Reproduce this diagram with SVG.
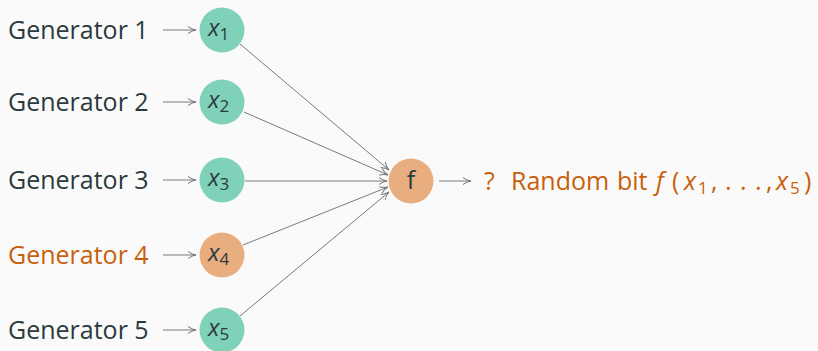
<svg xmlns="http://www.w3.org/2000/svg" width="818" height="351" viewBox="0 0 818 351">
<defs>
<marker id="arr" viewBox="0 0 10 10" refX="9" refY="5" markerWidth="10" markerHeight="10" markerUnits="userSpaceOnUse" orient="auto">
<path d="M1,1.5 Q5,4.5 9,5 Q5,5.5 1,8.5" fill="none" stroke="#777" stroke-width="1"/>
</marker>
</defs>
<style>
.lbl{font-family:"Open Sans","Noto Sans",sans-serif;font-size:25px;fill:#2a3a3d}
.alert{fill:#c95f0c}
.green{fill:#80d1b9}
.orange{fill:#e9ae80}
.var{font-family:"Open Sans","Noto Sans",sans-serif;font-size:24px;fill:#2a3a3d;font-style:italic}
.sub{font-size:17px;font-style:normal}
.edge{stroke:#7a7a7a;stroke-width:1;fill:none;marker-end:url(#arr)}
</style>
<rect width="818" height="351" fill="#fafafa"/>
<g id="connectors">
<line class="edge" x1="163" y1="30" x2="196" y2="30"/>
<line class="edge" x1="163" y1="102" x2="196" y2="102"/>
<line class="edge" x1="163" y1="180" x2="196" y2="180"/>
<line class="edge" x1="163" y1="255" x2="196" y2="255"/>
<line class="edge" x1="163" y1="330" x2="196" y2="330"/>
<line class="edge" x1="240" y1="44" x2="389" y2="170"/>
<line class="edge" x1="244" y1="112" x2="388" y2="175"/>
<line class="edge" x1="245" y1="181" x2="387" y2="181"/>
<line class="edge" x1="243" y1="245" x2="388" y2="187"/>
<line class="edge" x1="240" y1="316" x2="389" y2="192"/>
<line class="edge" x1="439" y1="181" x2="471" y2="181"/>
</g>
<g id="gen1"><text class="lbl" x="8" y="39">Generator 1</text></g>
<g id="gen2"><text class="lbl" x="8" y="111">Generator 2</text></g>
<g id="gen3"><text class="lbl" x="8" y="189">Generator 3</text></g>
<g id="gen4"><text class="lbl alert" x="8" y="264">Generator 4</text></g>
<g id="gen5"><text class="lbl" x="8" y="339">Generator 5</text></g>
<g id="x1"><circle class="green" cx="222" cy="30" r="22.5"/><text class="var" x="208" y="36">x<tspan class="sub" dy="4">1</tspan></text></g>
<g id="x2"><circle class="green" cx="222" cy="102" r="22.5"/><text class="var" x="208" y="108">x<tspan class="sub" dy="4">2</tspan></text></g>
<g id="x3"><circle class="green" cx="222" cy="180" r="22.5"/><text class="var" x="208" y="186">x<tspan class="sub" dy="4">3</tspan></text></g>
<g id="x4"><circle class="orange" cx="222" cy="255" r="22.5"/><text class="var" x="208" y="261">x<tspan class="sub" dy="4">4</tspan></text></g>
<g id="x5"><circle class="green" cx="222" cy="330" r="22.5"/><text class="var" x="208" y="336">x<tspan class="sub" dy="4">5</tspan></text></g>
<g id="f"><circle class="orange" cx="411" cy="181" r="22.5"/><text class="lbl" x="411" y="189" text-anchor="middle">f</text></g>
<g id="out"><text class="lbl alert" x="484" y="190">?<tspan x="511">Random</tspan><tspan x="617">bit</tspan><tspan x="656" font-style="italic">f</tspan><tspan x="672">(</tspan><tspan x="684" font-style="italic">x</tspan><tspan x="698" font-size="17" dy="4">1</tspan><tspan x="711" dy="-4">,</tspan><tspan x="725">.</tspan><tspan x="740">.</tspan><tspan x="755">.</tspan><tspan x="766">,</tspan><tspan x="776" font-style="italic">x</tspan><tspan x="790" font-size="17" dy="4">5</tspan><tspan x="804" dy="-4">)</tspan></text></g>
</svg>
